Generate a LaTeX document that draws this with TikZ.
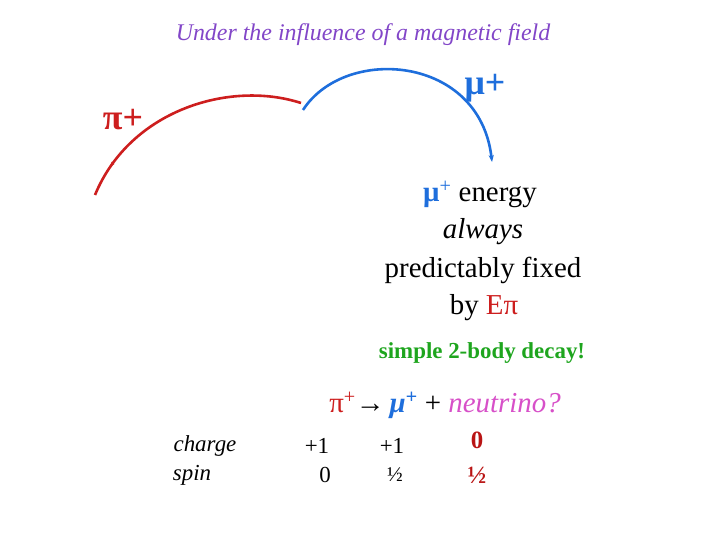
\documentclass[tikz,border=0pt]{standalone}
\usepackage{fontspec}
\setmainfont{Liberation Serif}
\usetikzlibrary{arrows.meta,decorations.markings}
\definecolor{pired}{RGB}{205,30,30}
\definecolor{mublue}{RGB}{30,110,220}
\definecolor{ttl}{RGB}{130,70,200}
\definecolor{grn}{RGB}{30,165,30}
\definecolor{pnk}{RGB}{215,80,200}
\definecolor{dred}{RGB}{185,20,20}
\begin{document}
\begin{tikzpicture}[x=1bp,y=-1bp,
  lbl/.style={inner sep=0pt,anchor=center},
  track/.style={line width=2.6bp}]
\useasboundingbox (0,0) rectangle (720,540);
\node[lbl,text=ttl] (title) at (363,35) {\fontsize{24}{28}\selectfont\itshape Under the influence of a magnetic field};
\coordinate (p0) at (95,195);
\coordinate (p1) at (301,103);
\coordinate (m0) at (303,110);
\coordinate (m1) at (492,162);
\draw[track,pired,postaction={decorate},decoration={markings,mark=at position 0.15 with {\arrow{Stealth[length=5bp,reversed]}}}] (p0) .. controls (130,110) and (230,80) .. (p1);
\draw[track,mublue,-{Stealth[length=7bp]}] (m0) .. controls (345,45) and (480,55) .. (m1);
\node[lbl,text=pired] (pi) at (123,120) {\fontsize{36}{40}\selectfont\bfseries π+};
\node[lbl,text=mublue] (mu) at (485,88) {\fontsize{36}{40}\selectfont\bfseries μ+};
\node[lbl] (l1) at (480,194) {\fontsize{29}{32}\selectfont\textcolor{mublue}{\bfseries μ}\textsuperscript{\textcolor{mublue}{+}} energy};
\node[lbl] (l2) at (483,232) {\fontsize{29}{32}\selectfont\itshape always};
\node[lbl] (l3) at (483,270) {\fontsize{29}{32}\selectfont predictably fixed};
\node[lbl] (l4) at (484,308) {\fontsize{29}{32}\selectfont by \textcolor{pired}{Eπ}};
\node[lbl,text=grn] (simple) at (482,353) {\fontsize{23}{26}\selectfont\bfseries simple 2-body decay!};
\node[lbl] (eq) at (445,405) {\fontsize{29}{32}\selectfont\textcolor{pired}{π\textsuperscript{+}}\textbf{→}\,\textcolor{mublue}{\bfseries\itshape μ\textsuperscript{+}} + \textcolor{pnk}{\itshape neutrino?}};
\node[lbl] (charge) at (205,446) {\fontsize{23}{26}\selectfont\itshape charge};
\node[lbl] (spin) at (192,475) {\fontsize{23}{26}\selectfont\itshape spin};
\node[lbl] (c1) at (317,446) {\fontsize{23}{26}\selectfont +1};
\node[lbl] (s1) at (325,475) {\fontsize{23}{26}\selectfont 0};
\node[lbl] (c2) at (392,446) {\fontsize{23}{26}\selectfont +1};
\node[lbl] (s2) at (395,475) {\fontsize{21}{24}\selectfont ½};
\node[lbl,text=dred] (c3) at (477,440) {\fontsize{25}{28}\selectfont\bfseries 0};
\node[lbl,text=dred] (s3) at (477,475) {\fontsize{25}{28}\selectfont\bfseries ½};
\end{tikzpicture}
\end{document}
